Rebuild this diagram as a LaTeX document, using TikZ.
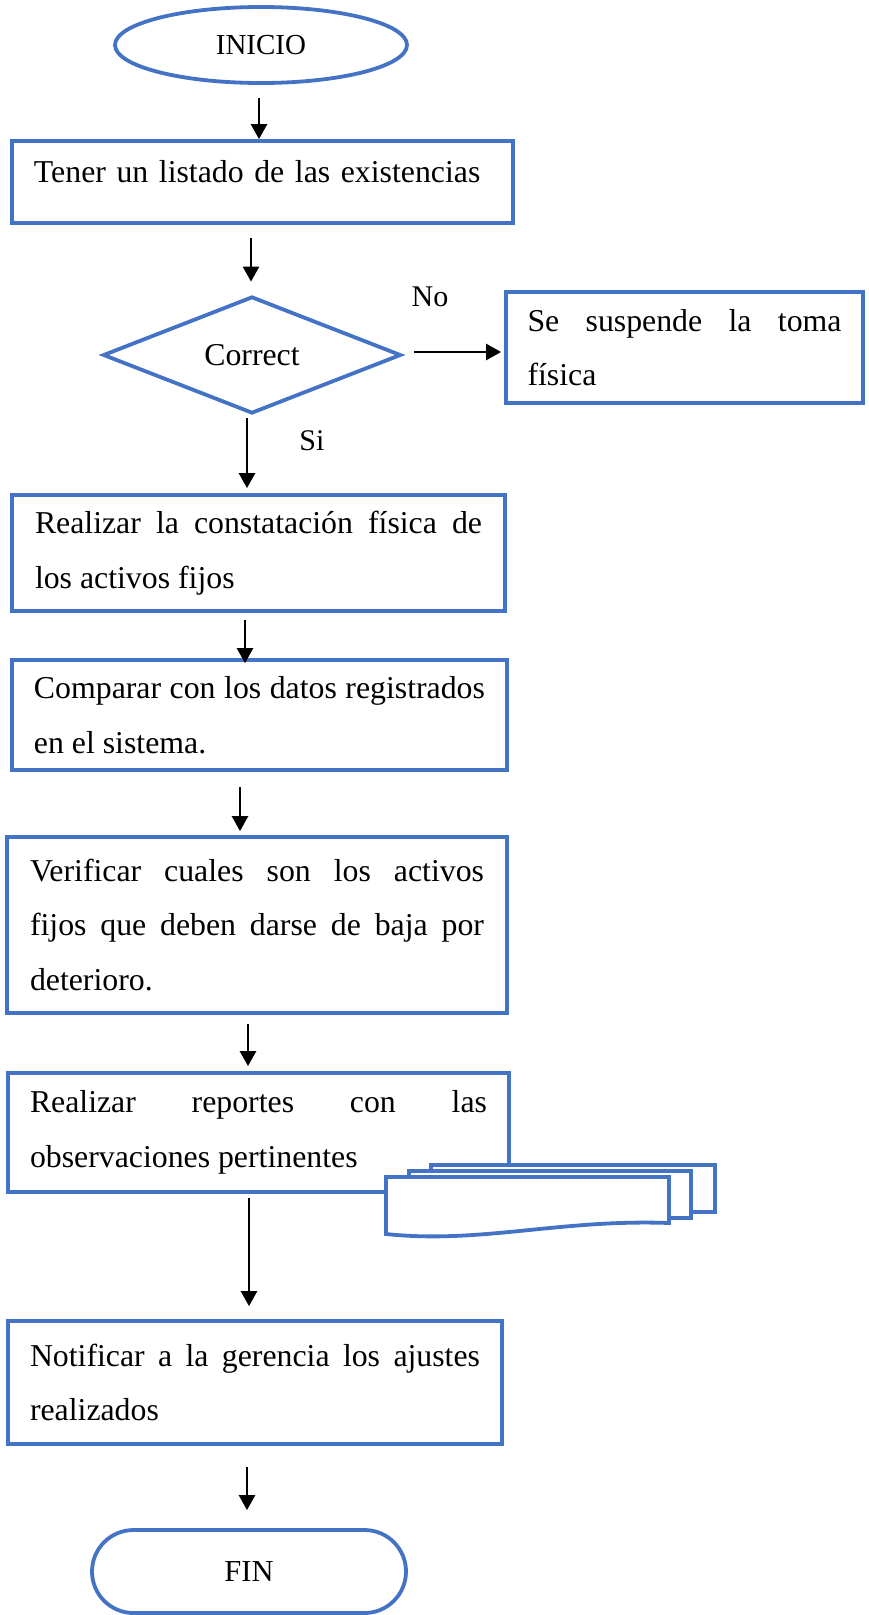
\documentclass[tikz,border=0pt]{standalone}
\usepackage{fontspec}
\setmainfont{Liberation Serif}
\usetikzlibrary{shapes.geometric,shapes.misc,arrows.meta}
\definecolor{azul}{HTML}{4472C4}
\hyphenpenalty=10000
\tolerance=10000

\begin{document}
\begin{tikzpicture}[x=1pt,y=-1pt,
  >={Triangle[length=15pt,width=16pt]},
  linea/.style={draw=azul,line width=3.8pt},
  texto/.style={font=\fontsize{31.8}{54.6}\selectfont},
  caja/.style={linea,texto,fill=white,inner ysep=0pt,align=justify},
  flecha/.style={->,line width=2.6pt},
  etiqueta/.style={font=\fontsize{30}{36}\selectfont}]

\useasboundingbox (0,0) rectangle (869,1615);

% INICIO
\node[linea,ellipse,minimum width=292pt,minimum height=76pt,inner sep=0pt,
      font=\fontsize{29}{35}\selectfont] (inicio) at (261,45) {INICIO};

% Listado
\node[caja,align=left,minimum width=501pt,minimum height=82pt,inner xsep=22pt,
      text width=457pt,text height=22pt,text depth=22pt] (listado) at (262.5,182)
      {Tener un listado de las existencias};

% Decision
\node[linea,texto,diamond,aspect=2.5,minimum width=298pt,minimum height=117pt,
      inner sep=0pt] (correct) at (252,355) {Correct};
\node[etiqueta] (no) at (430,297) {No};
\node[etiqueta] (si) at (312,441) {Si};

\node[caja,minimum width=357pt,minimum height=111pt,inner xsep=21.5pt,text width=314pt]
      (suspende) at (684.5,347.5) {Se suspende la toma\linebreak física};

% Pasos
\node[caja,minimum width=493pt,minimum height=116pt,inner xsep=23pt,text width=447pt]
      (constatacion) at (258.5,553)
      {Realizar la constatación física de\linebreak los activos fijos};
\node[caja,minimum width=495pt,minimum height=110pt,inner xsep=22pt,text width=451pt]
      (comparar) at (259.5,715)
      {Comparar con los datos registrados\linebreak en el sistema.};
\node[caja,minimum width=500pt,minimum height=176pt,inner xsep=23pt,text width=454pt]
      (verificar) at (257,925)
      {Verificar cuales son los activos\linebreak fijos que deben darse de baja por\linebreak deterioro.};
\node[caja,minimum width=501pt,minimum height=119pt,inner xsep=22pt,text width=457pt]
      (reportes) at (258.5,1132.5)
      {Realizar reportes con las\linebreak observaciones pertinentes};

% Documentos (back to front)
\draw[linea,fill=white] (431,1165) rectangle (715,1212);
\draw[linea,fill=white] (409,1171) rectangle (691,1218);
\draw[linea,fill=white] (386,1177) -- (669,1177) -- (669,1223)
      .. controls (560,1219) and (480,1244) .. (386,1234) -- cycle;

\node[caja,minimum width=494pt,minimum height=123pt,inner xsep=22pt,text width=450pt]
      (notificar) at (255,1382.5)
      {Notificar a la gerencia los ajustes\linebreak realizados};

% FIN
\node[linea,rounded rectangle,minimum width=314pt,minimum height=83pt,inner sep=0pt,
      font=\fontsize{30.5}{36}\selectfont] (fin) at (249,1571.5) {FIN};

% Flechas
\draw[flecha] (inicio.south) ++(-2,13) coordinate (f1) -- (f1 |- listado.north);
\draw[flecha,shorten >=13pt] (listado.south) ++(-11.5,13) coordinate (f2) -- (f2 |- correct.north);
\draw[flecha,shorten >=3pt] (correct.east) ++(11,-3) coordinate (f3) -- (f3 -| suspende.west);
\draw[flecha,shorten >=5pt] (correct.south) ++(-5,3) coordinate (f4) -- (f4 |- constatacion.north);
\draw[flecha,shorten >=-5pt] (constatacion.south) ++(-13.5,7) coordinate (f5) -- (f5 |- comparar.north);
\draw[flecha,shorten >=4pt] (comparar.south) ++(-19.5,15) coordinate (f6) -- (f6 |- verificar.north);
\draw[flecha,shorten >=5pt] (verificar.south) ++(-9,9) coordinate (f7) -- (f7 |- reportes.north);
\draw[flecha,shorten >=13pt] (reportes.south) ++(-9.5,4) coordinate (f8) -- (f8 |- notificar.north);
\draw[flecha,shorten >=18pt] (notificar.south) ++(-8,21) coordinate (f9) -- (f9 |- fin.north);

\end{tikzpicture}
\end{document}
